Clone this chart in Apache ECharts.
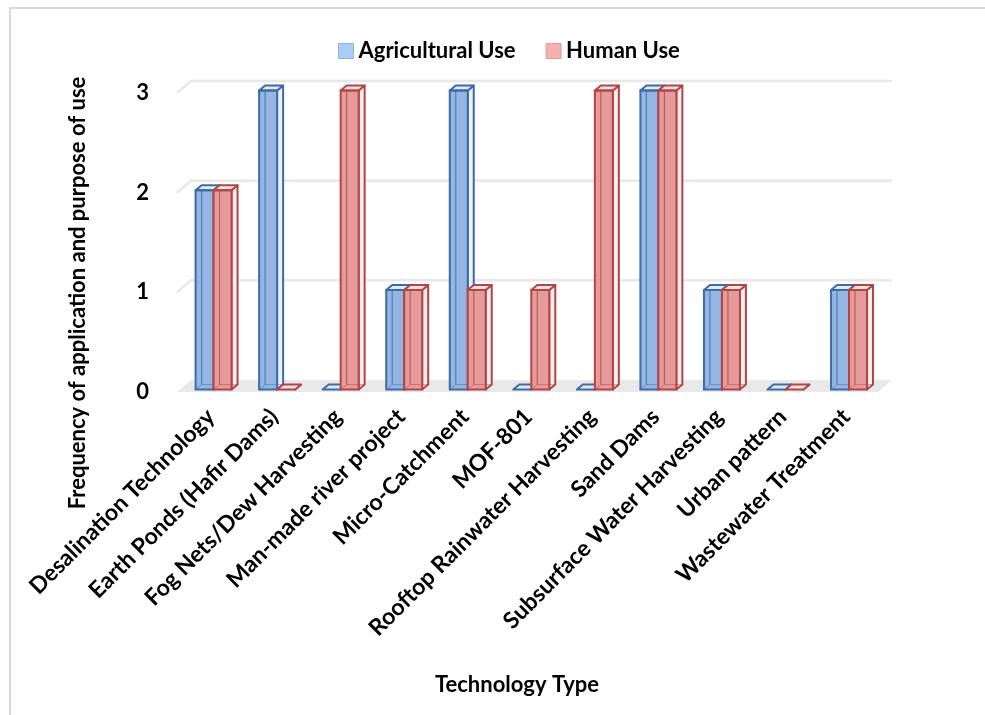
<!DOCTYPE html>
<html>
<head>
<meta charset="utf-8">
<script src="https://cdn.jsdelivr.net/npm/echarts@6/dist/echarts.min.js"></script>
<style>
  html, body { margin: 0; padding: 0; background: #ffffff; }
  #chart { width: 985px; height: 715px; }
</style>
</head>
<body>
<div id="chart"></div>
<script>
// Water technologies and how often each was applied, by purpose of use
const categories = [
  'Desalination Technology',
  'Earth Ponds (Hafir Dams)',
  'Fog Nets/Dew Harvesting',
  'Man-made river project',
  'Micro-Catchment',
  'MOF-801',
  'Rooftop Rainwater Harvesting',
  'Sand Dams',
  'Subsurface Water Harvesting',
  'Urban pattern',
  'Wastewater Treatment'
];
const agriculturalUse = [2, 3, 0, 1, 3, 0, 0, 3, 1, 0, 1];
const humanUse        = [2, 0, 3, 1, 1, 1, 3, 3, 1, 0, 1];
const yTicks = [0, 1, 2, 3];

const FONT = 'Lato';

// Pseudo-3D geometry (pixels): depth of the floor/walls, where the bars sit
// inside that depth, and how deep each bar box is.
const WALL = [14, -12];
const BAR_SHIFT = [2.8, -2.4];
const BAR_DEPTH = [6, -5];
const BAR_RATIO = 0.283;

const palettes = [
  { face: '#93b6e2', top: '#e2ebf7', side: '#eef2f8', edge: '#3d6ba8', legend: '#a9cdf4', legendEdge: '#8db3e3' },
  { face: '#e69b9a', top: '#f8e3e3', side: '#f8eeee', edge: '#b04646', legend: '#f5b0b0', legendEdge: '#e39a9a' }
];

function wallRenderer(params, api) {
  const cs = params.coordSys;
  const v = api.value(1);
  const y = api.coord([0, v])[1];
  const L = cs.x, R = cs.x + cs.width;
  const [dx, dy] = WALL;
  if (v === 0) {
    return {
      type: 'polygon',
      shape: { points: [[L - 2, y], [R, y], [R + dx, y + dy], [L - 2 + dx, y + dy]] },
      style: { fill: '#e9e9e9', stroke: null }
    };
  }
  return {
    type: 'polyline',
    shape: { points: [[L - 2, y], [L - 2 + dx, y + dy], [R + dx, y + dy]] },
    style: { stroke: '#e8e8e8', lineWidth: 2.5, fill: null }
  };
}

function barRenderer(idx) {
  return function (params, api) {
    const cat = api.value(0);
    const v = api.value(1);
    const top = api.coord([cat, v]);
    const base = api.coord([cat, 0]);
    const bw = api.size([1, 0])[0] * BAR_RATIO;
    const x0 = top[0] + BAR_SHIFT[0] + (idx === 0 ? -bw : 0);
    const x1 = x0 + bw;
    const yt = top[1] + BAR_SHIFT[1];
    const yb = base[1] + BAR_SHIFT[1];
    const [dx, dy] = BAR_DEPTH;
    const p = palettes[idx];
    const lw = 2;
    const children = [];
    // right side face
    children.push({
      type: 'polygon',
      shape: { points: [[x1, yb], [x1 + dx, yb + dy], [x1 + dx, yt + dy], [x1, yt]] },
      style: { fill: p.side, stroke: p.edge, lineWidth: lw, lineJoin: 'round' }
    });
    // front face fill
    if (yb - yt > 0.5) {
      children.push({
        type: 'rect',
        shape: { x: x0, y: yt, width: bw, height: yb - yt },
        style: { fill: p.face, stroke: null }
      });
      // back edges seen through the translucent box
      children.push({
        type: 'polyline',
        shape: { points: [[x0 + dx, yt + dy], [x0 + dx, yb + dy]] },
        style: { stroke: p.edge, lineWidth: 1.2, opacity: 0.75, fill: null }
      });
      children.push({
        type: 'polyline',
        shape: { points: [[x0, yb], [x0 + dx, yb + dy], [x1 + dx, yb + dy]] },
        style: { stroke: p.edge, lineWidth: 1, opacity: 0.5, fill: null }
      });
    }
    // top face
    children.push({
      type: 'polygon',
      shape: { points: [[x0, yt], [x1, yt], [x1 + dx, yt + dy], [x0 + dx, yt + dy]] },
      style: { fill: p.top, stroke: p.edge, lineWidth: lw, lineJoin: 'round' }
    });
    // front face outline
    if (yb - yt > 0.5) {
      children.push({
        type: 'rect',
        shape: { x: x0, y: yt, width: bw, height: yb - yt },
        style: { fill: null, stroke: p.edge, lineWidth: lw }
      });
    }
    return { type: 'group', children: children };
  };
}

const labelFont = { fontFamily: FONT, fontWeight: 'bold', fontSize: 22, color: '#000000' };

const chart = echarts.init(document.getElementById('chart'), null, { renderer: 'canvas' });
chart.setOption({
  backgroundColor: '#ffffff',
  animation: false,
  grid: { left: 179, top: 93, width: 699, height: 299, containLabel: false },
  legend: {
    left: 333,
    top: 35,
    icon: 'rect',
    itemWidth: 15,
    itemHeight: 15,
    itemGap: 30,
    selectedMode: false,
    textStyle: Object.assign({}, labelFont, { padding: [0, 0, 0, 0] }),
    data: [
      { name: 'Agricultural Use', itemStyle: { color: palettes[0].legend, borderColor: palettes[0].legendEdge, borderWidth: 1 } },
      { name: 'Human Use', itemStyle: { color: palettes[1].legend, borderColor: palettes[1].legendEdge, borderWidth: 1 } }
    ]
  },
  xAxis: {
    type: 'category',
    data: categories,
    axisLine: { show: false },
    axisTick: { show: false },
    splitLine: { show: false },
    axisLabel: Object.assign({ rotate: 45, interval: 0, margin: 21 }, labelFont, { fontSize: 23 })
  },
  yAxis: {
    type: 'value',
    min: 0,
    max: 3,
    interval: 1,
    axisLine: { show: false },
    axisTick: { show: false },
    splitLine: { show: false },
    axisLabel: Object.assign({ margin: 30 }, labelFont)
  },
  graphic: [
    {
      type: 'rect',
      shape: { x: 10, y: 8, width: 1000, height: 800 },
      style: { fill: null, stroke: '#d9d9d9', lineWidth: 2 },
      silent: true, z: -10
    },
    {
      type: 'text',
      x: 78, y: 293,
      rotation: Math.PI / 2,
      style: {
        text: 'Frequency of application and purpose of use',
        fontFamily: FONT, fontWeight: 'bold', fontSize: 22, fill: '#000000',
        align: 'center', verticalAlign: 'middle'
      }
    },
    {
      type: 'text',
      x: 517, y: 685,
      style: {
        text: 'Technology Type',
        fontFamily: FONT, fontWeight: 'bold', fontSize: 22, fill: '#000000',
        align: 'center', verticalAlign: 'middle'
      }
    }
  ],
  series: [
    {
      type: 'custom',
      name: 'walls',
      silent: true,
      clip: false,
      z: 1,
      renderItem: wallRenderer,
      encode: { x: 0, y: 1 },
      data: yTicks.map(function (v) { return [0, v]; })
    },
    {
      type: 'custom',
      name: 'Agricultural Use',
      clip: false,
      z: 3,
      itemStyle: { color: palettes[0].legend },
      renderItem: barRenderer(0),
      encode: { x: 0, y: 1 },
      data: agriculturalUse.map(function (v, i) { return [i, v]; })
    },
    {
      type: 'custom',
      name: 'Human Use',
      clip: false,
      z: 4,
      itemStyle: { color: palettes[1].legend },
      renderItem: barRenderer(1),
      encode: { x: 0, y: 1 },
      data: humanUse.map(function (v, i) { return [i, v]; })
    }
  ]
});
</script>
</body>
</html>
